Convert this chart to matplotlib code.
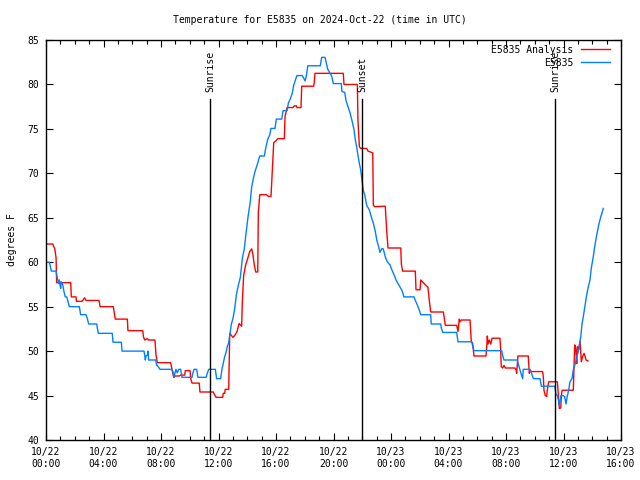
import matplotlib
matplotlib.use('Agg')
import matplotlib.pyplot as plt
from matplotlib.ticker import MultipleLocator

# hours since 2024-10-22 00:00 UTC, temperature in degrees F
analysis_h = [0.05, 0.47, 0.51, 0.61, 0.70, 0.74, 1.72, 1.76, 2.09, 2.12, 2.50, 2.59, 2.69, 2.78,
              3.69, 3.76, 4.68, 4.73, 4.82, 5.66, 5.70, 6.73, 6.78, 6.87, 7.05, 7.13, 7.58, 7.65,
              7.74, 8.67, 8.77, 8.86, 8.90, 8.99, 9.27, 9.37, 9.65, 9.69, 10.02, 10.07, 10.16,
              10.66, 10.71, 11.64, 11.69, 11.83, 12.29, 12.33, 12.43, 12.47, 12.71, 12.78, 13.01,
              13.15, 13.29, 13.43, 13.61, 13.66, 13.75, 13.89, 14.03, 14.17, 14.31, 14.40, 14.49,
              14.59, 14.73, 14.77, 14.87, 15.33, 15.47, 15.65, 15.70, 15.79, 15.84, 16.02, 16.12,
              16.58, 16.63, 16.77, 17.18, 17.27, 17.41, 17.46, 17.74, 17.79, 18.62, 18.66, 18.71,
              20.68, 20.73, 21.66, 21.70, 21.80, 21.89, 22.31, 22.40, 22.73, 22.77, 22.87, 23.60,
              23.70, 23.79, 24.68, 24.72, 24.81, 25.69, 25.74, 26.02, 26.07, 26.25, 26.43, 26.57,
              26.67, 26.76, 27.64, 27.69, 27.78, 28.57, 28.66, 28.75, 28.80, 28.89, 29.50, 29.54,
              29.59, 29.68, 29.77, 30.61, 30.66, 30.70, 30.75, 30.84, 30.94, 31.03, 31.58, 31.63,
              31.67, 31.77, 31.86, 31.95, 32.63, 32.70, 32.74, 32.78, 32.83, 33.55, 33.62, 33.67,
              34.55, 34.60, 34.64, 34.73, 34.83, 34.87, 34.97, 35.57, 35.62, 35.71, 35.81, 35.85,
              35.90, 36.68, 36.73, 36.78, 36.82, 36.87, 36.92, 36.96, 37.05, 37.15, 37.19, 37.24,
              37.33, 37.43, 37.52, 37.57, 37.70]
analysis_t = [62.05, 62.05, 61.9, 61.5, 60.5, 57.7, 57.7, 56.1, 56.1, 55.6, 55.6, 55.8, 56.0, 55.7,
              55.7, 55.0, 55.0, 54.5, 53.6, 53.6, 52.3, 52.3, 51.6, 51.25, 51.4, 51.25, 51.25, 49.6,
              48.7, 48.7, 47.9, 47.2, 47.05, 47.2, 47.2, 47.3, 47.3, 47.8, 47.8, 46.9, 46.4,
              46.4, 45.4, 45.4, 45.2, 44.8, 44.8, 45.25, 45.25, 45.7, 45.7, 52.0, 51.55,
              51.8, 52.2, 53.1, 52.8, 55.6, 58.5, 59.7, 60.4, 61.2, 61.5, 60.8, 59.7,
              58.9, 58.9, 65.5, 67.6, 67.6, 67.4, 67.4, 68.9, 71.9, 73.45, 73.7, 73.9,
              73.9, 76.4, 77.4, 77.4, 77.6, 77.6, 77.4, 77.4, 79.8, 79.8, 80.2, 81.25,
              81.25, 80.0, 80.0, 76.0, 73.0, 72.8, 72.8, 72.5, 72.3, 66.4, 66.25, 66.3,
              63.6, 61.6, 61.6, 59.8, 59.0, 59.0, 56.9, 56.9, 58.0, 57.7, 57.4, 57.2,
              55.6, 54.4, 54.4, 53.9, 52.9, 52.9, 52.2, 53.6, 53.3, 53.5, 53.5, 52.3,
              51.05, 50.9, 49.45, 49.45, 50.5, 51.7, 50.8, 51.25, 50.8, 51.45, 51.45, 50.1,
              48.25, 48.1, 48.4, 48.1, 48.1, 47.9, 47.5, 48.3, 49.45, 49.45, 47.5, 47.7,
              47.7, 47.05, 45.6, 45.0, 44.9, 45.6, 46.55, 46.55, 45.6, 43.55, 43.6, 44.9,
              45.6, 45.6, 48.1, 50.7, 50.5, 49.9, 48.6, 50.5, 50.2, 51.1, 50.1, 48.8,
              49.4, 49.75, 49.3, 49.0, 48.9]

obs_h = [0.05, 0.23, 0.28, 0.37, 0.70, 0.74, 0.79, 0.83, 0.88, 0.93, 0.97, 1.02, 1.06, 1.16, 1.25,
         1.34, 1.44, 1.53, 1.62, 2.32, 2.41, 2.78, 2.87, 2.97, 3.53, 3.57, 3.64, 4.61, 4.66, 5.24,
         5.29, 6.82, 6.87, 6.91, 6.96, 7.05, 7.10, 7.14, 7.63, 7.70, 7.74, 7.93, 8.77, 8.86, 8.90,
         9.04, 9.13, 9.23, 9.37, 9.46, 10.16, 10.21, 10.30, 10.48, 10.57, 11.13, 11.22, 11.32,
         11.78, 11.87, 12.15, 12.24, 12.33, 12.43, 12.52, 12.61, 12.71, 12.80, 12.89, 13.01,
         13.13, 13.24, 13.38, 13.52, 13.66, 13.79, 13.93, 14.07, 14.21, 14.31, 14.45, 14.54,
         14.68, 14.87, 15.19, 15.28, 15.42, 15.56, 15.65, 15.93, 16.02, 16.40, 16.49, 16.77,
         16.86, 17.00, 17.13, 17.23, 17.37, 17.46, 17.83, 17.93, 18.02, 18.11, 18.21, 19.08,
         19.18, 19.41, 19.50, 19.60, 19.87, 19.99, 20.54, 20.59, 20.78, 20.87, 21.01, 21.15,
         21.29, 21.43, 21.52, 21.61, 21.70, 21.80, 21.89, 21.98, 22.07, 22.17, 22.31, 22.49,
         22.63, 22.77, 22.91, 23.01, 23.14, 23.23, 23.37, 23.46, 23.51, 23.60, 23.74, 23.93,
         24.07, 24.21, 24.35, 24.49, 24.63, 24.77, 24.90, 25.60, 25.69, 25.83, 25.97, 26.07,
         26.76, 26.80, 27.46, 27.50, 27.60, 28.57, 28.66, 29.61, 29.68, 29.77, 31.70, 31.77,
         31.86, 32.79, 32.88, 32.97, 33.06, 33.16, 33.20, 33.67, 33.76, 33.90, 34.37, 34.46,
         35.39, 35.48, 35.57, 35.67, 35.71, 35.81, 35.95, 36.08, 36.17, 36.26, 36.36, 36.45,
         36.59, 36.68, 36.82, 36.92, 37.01, 37.09, 37.20, 37.29, 37.38, 37.52, 37.61, 37.70,
         37.84, 37.93, 38.07, 38.17, 38.31, 38.45, 38.59, 38.77]
obs_t = [60.0, 60.0, 59.7, 59.0, 59.0, 58.6, 58.2, 58.0, 57.6, 58.0, 57.5, 57.05, 57.8, 57.5, 56.7,
         56.1, 56.1, 55.6, 55.0, 55.0, 54.1, 54.1, 53.7, 53.05, 53.05, 52.6, 52.0, 52.0, 51.0, 51.0,
         50.0, 50.0, 49.5, 49.0, 49.45, 49.55, 50.0, 49.0, 49.0, 48.4, 48.4, 47.95, 47.95, 47.55, 47.05,
         47.95, 47.55, 47.95, 47.95, 47.05, 47.05, 47.5, 47.95, 47.95, 47.05, 47.05, 47.5, 47.95,
         47.95, 46.9, 46.9, 47.95, 48.6, 49.4, 49.8, 50.5, 50.95, 52.0, 53.0, 53.7,
         54.8, 56.3, 57.4, 58.3, 60.45, 61.45, 63.45, 65.3, 66.8, 68.5, 69.6, 70.2,
         70.9, 71.95, 71.95, 72.8, 73.8, 74.3, 75.05, 75.05, 76.1, 76.1, 77.05, 77.05,
         77.9, 78.4, 79.0, 79.9, 80.6, 81.0, 81.0, 80.7, 80.4, 80.95, 82.1, 82.1,
         83.05, 83.05, 82.4, 81.7, 80.95, 80.1, 80.1, 79.2, 79.1, 78.2, 77.5, 76.8,
         75.9, 74.9, 73.75, 73.0, 72.05, 71.1, 70.4, 69.25, 68.1, 67.6, 66.4, 65.9,
         65.1, 64.4, 63.45, 62.5, 61.75, 61.1, 61.55, 61.5, 61.2, 60.6, 60.05, 59.7,
         59.1, 58.6, 58.0, 57.6, 57.2, 56.8, 56.1, 56.1, 55.7, 55.2, 54.6, 54.1,
         54.1, 53.05, 53.05, 52.6, 52.1, 52.1, 51.05, 51.05, 50.6, 50.05, 50.05, 49.5,
         49.0, 49.0, 48.4, 47.9, 47.4, 46.9, 47.95, 47.95, 47.6, 46.9, 46.9, 46.05,
         46.05, 45.15, 45.0, 44.3, 43.9, 44.95, 45.0, 44.9, 44.05, 44.9, 45.6, 46.55,
         46.9, 47.9, 48.6, 49.4, 49.8, 50.5, 51.6, 53.1, 53.9, 55.4, 56.3, 57.05,
         58.0, 59.3, 60.6, 61.75, 63.05, 64.2, 65.1, 66.05]

event_h = [11.41, 21.98, 35.44]
event_names = ['Sunrise', 'Sunset', 'Sunrise']

tick_h = list(range(0, 41, 4))
tick_labels = ['10/22\n00:00', '10/22\n04:00', '10/22\n08:00', '10/22\n12:00', '10/22\n16:00',
               '10/22\n20:00', '10/23\n00:00', '10/23\n04:00', '10/23\n08:00', '10/23\n12:00',
               '10/23\n16:00']

plt.rcParams['font.family'] = 'DejaVu Sans Mono'
plt.rcParams['font.size'] = 7

fig = plt.figure(figsize=(6.4, 4.8), dpi=100)
ax = fig.add_axes([46/640, 40/480, 575/640, 400/480])

ax.plot(analysis_h, analysis_t, color='#ff0000', lw=1, label='E5835 Analysis')
ax.plot(obs_h, obs_t, color='#0080ff', lw=1, label='E5835')

for h, name in zip(event_h, event_names):
    ax.plot([h, h], [40, 78.4], color='black', lw=1)
    ax.text(h, 79.15, name, rotation=90, ha='center', va='bottom', fontsize=7)

ax.set_xlim(0, 40)
ax.set_ylim(40, 85)
ax.set_xticks(tick_h)
ax.set_xticklabels(tick_labels)
ax.xaxis.set_minor_locator(MultipleLocator(1))
ax.set_yticks(range(40, 86, 5))
ax.tick_params(which='both', direction='in', top=True, right=True, labelsize=7, width=0.8)
ax.tick_params(which='major', length=5, pad=5)
ax.tick_params(which='minor', length=3)
for s in ax.spines.values():
    s.set_linewidth(1)

fig.text(12/640, 0.5, 'degrees F', rotation=90, ha='center', va='center', fontsize=7)
fig.text(0.5, 1 - 20/480, 'Temperature for E5835 on 2024-Oct-22 (time in UTC)',
         ha='center', va='center', fontsize=7)

ax.legend(loc='upper right', bbox_to_anchor=(1, 1.015), frameon=False, markerfirst=False,
          fontsize=7, handlelength=3, handletextpad=0.8, labelspacing=0.3,
          borderaxespad=0.7)

fig.savefig('out.png', dpi=100)
